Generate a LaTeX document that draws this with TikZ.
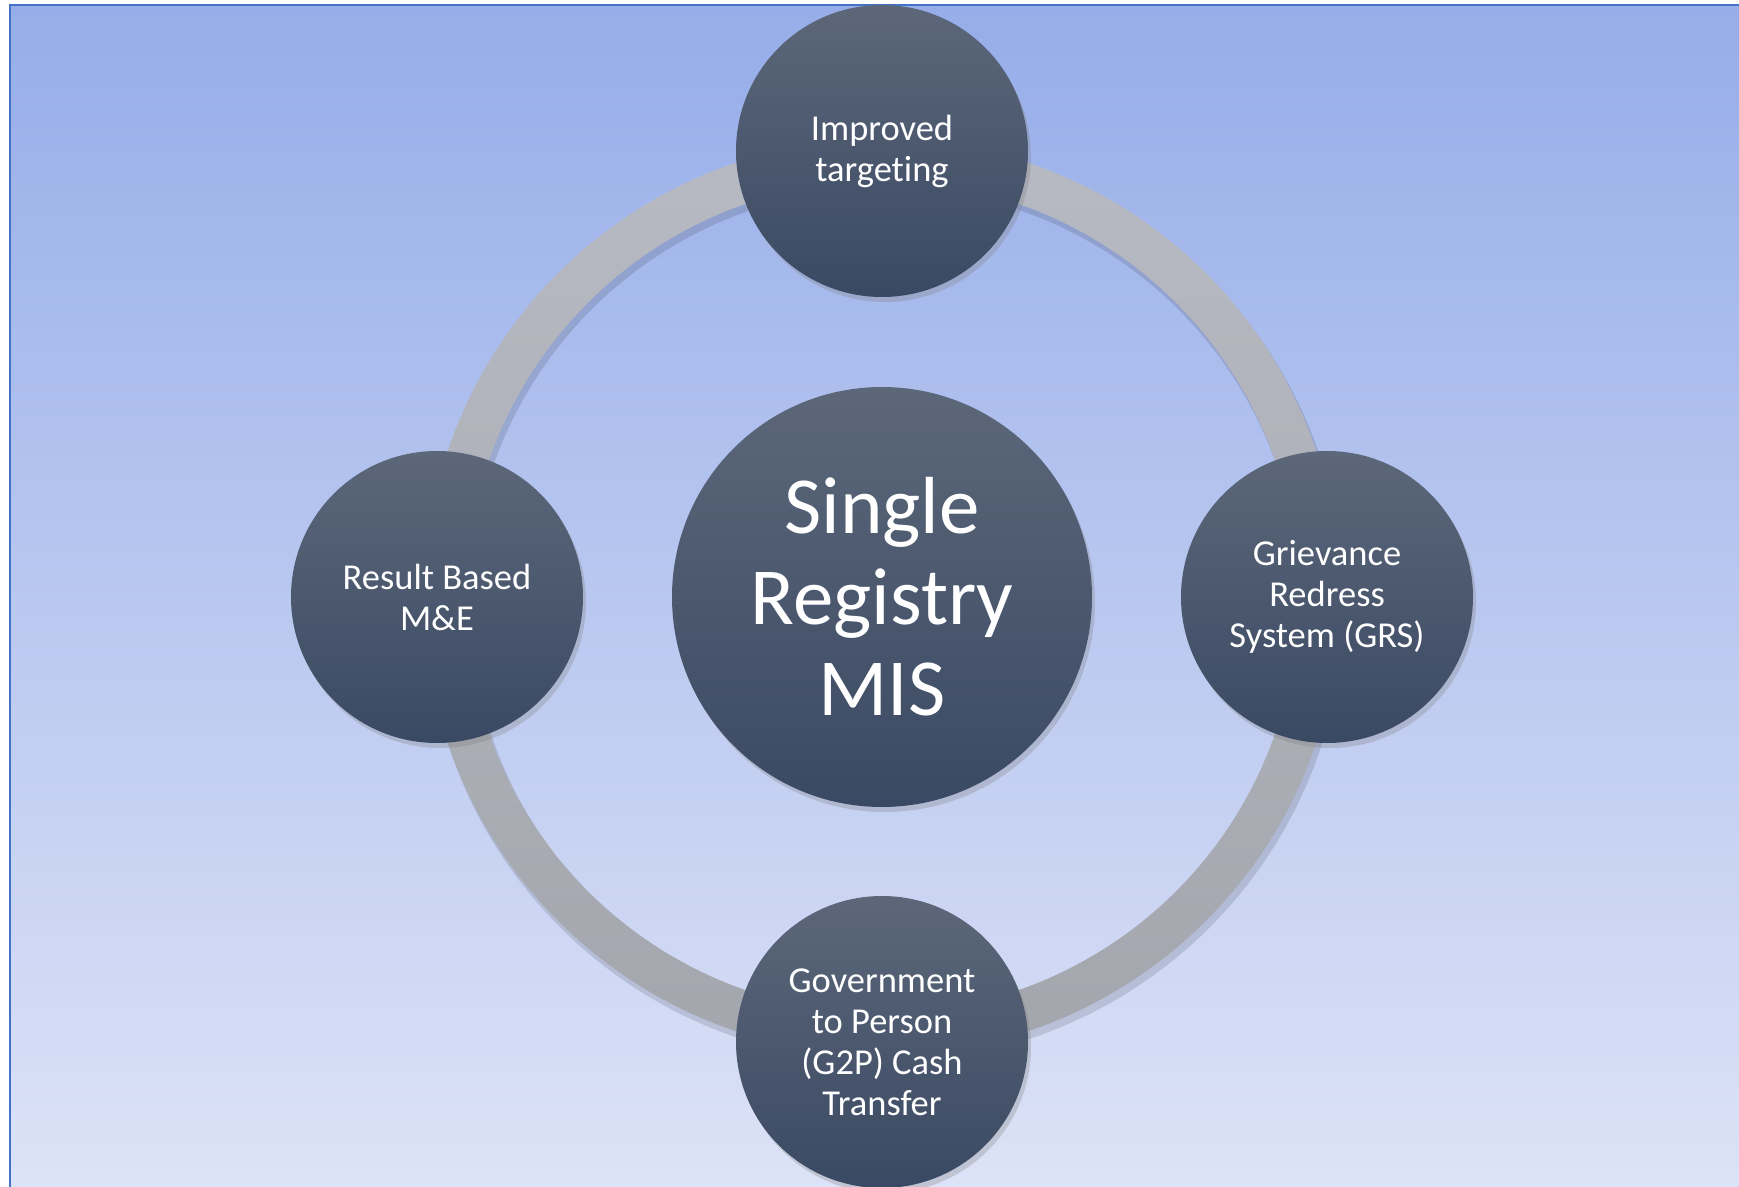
\documentclass[tikz,border=0pt]{standalone}
\usepackage{fontspec}
\setmainfont{Carlito}[Ligatures=NoCommon]
\usetikzlibrary{calc}
\usetikzlibrary{shadows}
\definecolor{bgtop}{HTML}{96ADE9}
\definecolor{bgbot}{HTML}{DDE3F7}
\definecolor{frame}{HTML}{4472C4}
\definecolor{balltop}{HTML}{5C6779}
\definecolor{ballbot}{HTML}{3A4963}
\definecolor{ringtop}{HTML}{B8BAC3}
\definecolor{ringbot}{HTML}{A4A6AE}
\newcommand{\raio}{146pt}

\begin{document}
\begin{tikzpicture}[x=1pt,y=1pt]
\tikzstyle{ball}=[circle, inner sep=0pt, top color=balltop, bottom color=ballbot, text=white, align=center, drop shadow={opacity=.3, shadow xshift=3pt, shadow yshift=-5pt}]
\tikzstyle{hub}=[ball, minimum size=420pt, font=\fontsize{81}{91}\selectfont]
\tikzstyle{spoke}=[ball, minimum size=2*\raio, font=\fontsize{36.5}{41}\selectfont]
\useasboundingbox (-882,-589) rectangle (857,597);
% background and frame
\fill[white] (-882,-589) rectangle (857,597);
\shade[top color=bgtop, bottom color=bgbot] (-872,592) rectangle (880,-600);
\draw[frame, line width=2.5pt] (-872,-600) -- (-872,592) -- (880,592);

% ring around the registry
\coordinate (C) at (0,0);
\fill[black, opacity=.12, even odd rule] ($(C)+(3,-6)$) circle (459) ($(C)+(3,-6)$) circle (415);
\shade[top color=ringtop, bottom color=ringbot, even odd rule] (C) circle (458) (C) circle (416);

% centre
\node (mis) at (C) [hub] {Single\\Registry\\MIS};

% outer circles
\node (target) at (0,446) [spoke] {Improved\\targeting};
\node (grs) at (445,0) [spoke] {Grievance\\Redress\\System (GRS)};
\node (gtp) at (0,-445) [spoke] {Government\\to Person\\(G2P) Cash\\Transfer};
\node (rbme) at (-445,0) [spoke] {Result Based\\M\&E};
\end{tikzpicture}
\end{document}
